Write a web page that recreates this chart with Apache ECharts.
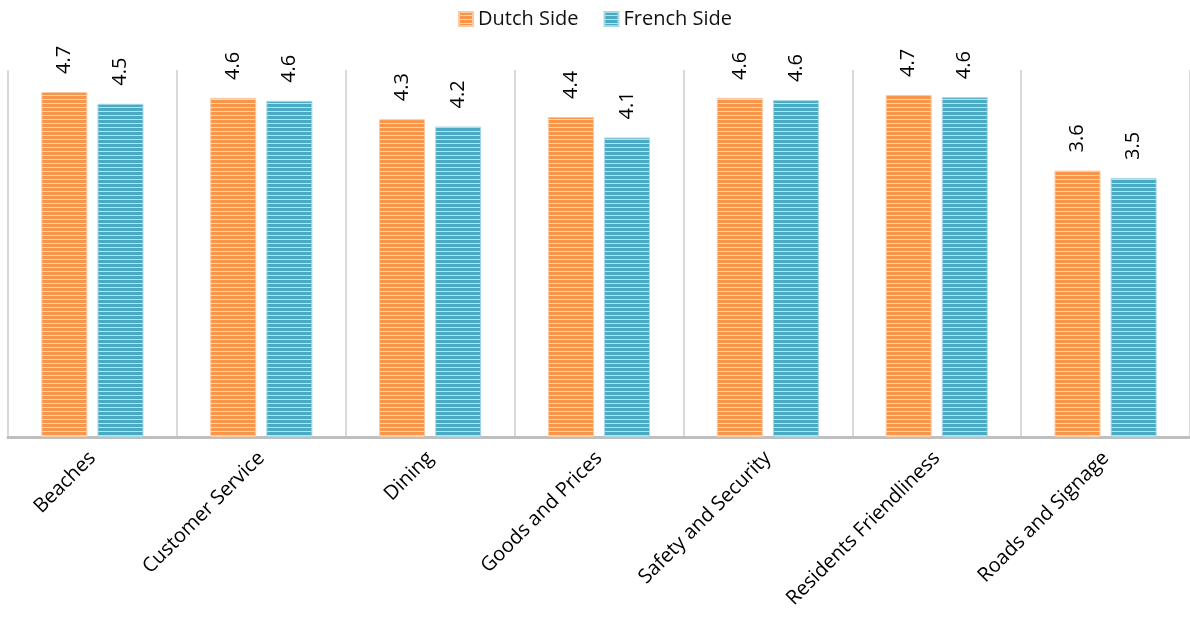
<!DOCTYPE html>
<html>
<head>
<meta charset="utf-8">
<title>Dutch vs French Side</title>
<script src="https://cdn.jsdelivr.net/npm/echarts@6/dist/echarts.min.js"></script>
<style>
  html, body { margin: 0; padding: 0; background: #fff; }
  #chart { width: 1190px; height: 622px; }
</style>
</head>
<body>
<div id="chart"></div>
<script>
// data
const categories = ['Beaches', 'Customer Service', 'Dining', 'Goods and Prices', 'Safety and Security', 'Residents Friendliness', 'Roads and Signage'];
const dutchSide = [4.70, 4.62, 4.33, 4.36, 4.62, 4.66, 3.63];
const frenchSide = [4.54, 4.58, 4.23, 4.08, 4.59, 4.63, 3.53];

// striped fill like the original bars
const makeStripes = (main, light) => {
  const c = document.createElement('canvas');
  c.width = 4;
  c.height = 4;
  const ctx = c.getContext('2d');
  ctx.fillStyle = main;
  ctx.fillRect(0, 0, 4, 4);
  ctx.fillStyle = light;
  ctx.fillRect(0, 3, 4, 1);
  return { image: c, repeat: 'repeat' };
};

const orange = makeStripes('#F7954A', '#FCD6B6');
const blue = makeStripes('#4AAAC4', '#BCE1EA');

const chart = echarts.init(document.getElementById('chart'));

const valueLabel = {
  show: true,
  position: 'top',
  rotate: 90,
  distance: 18,
  align: 'left',
  verticalAlign: 'middle',
  fontSize: 20,
  fontFamily: 'Open Sans',
  color: '#000',
  formatter: (p) => p.value.toFixed(1),
};

chart.setOption({
  animation: false,
  legend: {
    top: 4,
    left: 'center',
    icon: 'rect',
    itemWidth: 14,
    itemHeight: 14,
    itemGap: 25,
    textStyle: { fontSize: 20, fontFamily: 'Open Sans', color: '#111' },
  },
  grid: {
    left: 8,
    right: -6,
    top: 70,
    bottom: 185,
  },
  xAxis: {
    type: 'category',
    data: categories,
    axisLine: { lineStyle: { color: '#bfbfbf', width: 3 } },
    axisTick: { show: false },
    splitLine: { show: true, lineStyle: { color: '#d9d9d9', width: 2 } },
    axisLabel: {
      rotate: 45,
      margin: 18,
      fontSize: 20,
      fontFamily: 'Open Sans',
      color: '#000',
      interval: 0,
    },
  },
  yAxis: {
    type: 'value',
    min: 0,
    max: 5,
    show: false,
    splitLine: { show: false },
  },
  series: [
    {
      name: 'Dutch Side',
      type: 'bar',
      data: dutchSide,
      barWidth: 46,
      barGap: '22%',
      itemStyle: { color: orange, borderColor: '#FBC9A0', borderWidth: 1 },
      label: valueLabel,
    },
    {
      name: 'French Side',
      type: 'bar',
      data: frenchSide,
      barWidth: 46,
      itemStyle: { color: blue, borderColor: '#A9D8E5', borderWidth: 1 },
      label: valueLabel,
    },
  ],
});

window.addEventListener('resize', () => chart.resize());
</script>
</body>
</html>
